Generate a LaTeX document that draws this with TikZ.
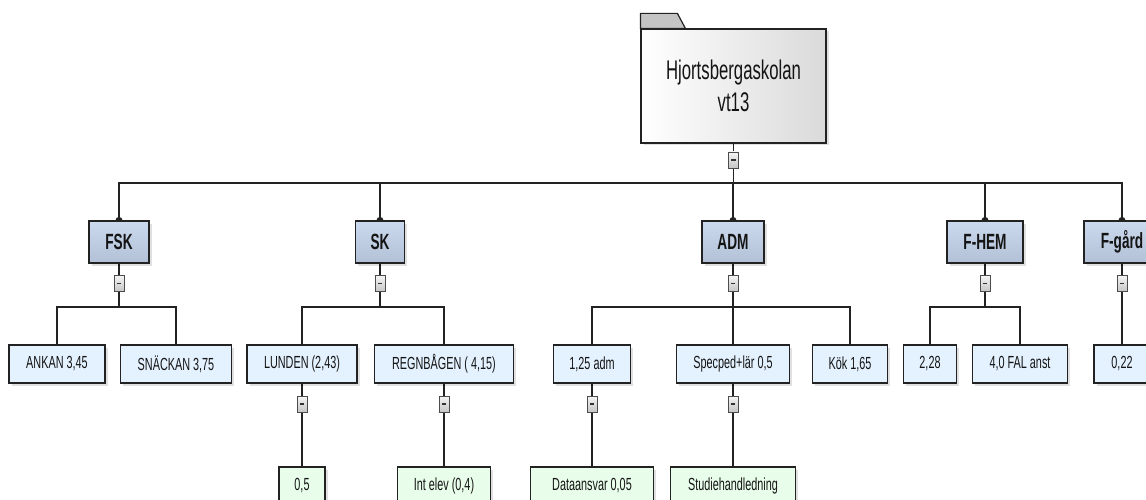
\documentclass[tikz,border=0pt]{standalone}
\usepackage{fontspec}
\setmainfont[FakeStretch=0.62]{Liberation Sans}
\usetikzlibrary{positioning,shadows}
\definecolor{rootgray}{RGB}{218,218,218}
\definecolor{tabgray}{RGB}{196,196,196}
\definecolor{grpblue}{RGB}{194,210,234}
\definecolor{unitblue}{RGB}{228,242,255}
\definecolor{subgreen}{RGB}{232,253,234}
\definecolor{edgegray}{RGB}{34,34,34}
\pgfdeclarelayer{background}
\pgfsetlayers{background,main}

\begin{document}
\begin{tikzpicture}[
  x=1pt, y=-1pt,
  anybox/.style={rectangle, draw=edgegray, line width=1.2pt, inner sep=0pt, text=black!92,
    drop shadow={shadow xshift=2.5pt, shadow yshift=-2.5pt, fill=black, opacity=0.12}},
  rootbox/.style={anybox, left color=white, right color=rootgray, align=center,
    font=\fontsize{27}{32}\selectfont},
  groupbox/.style={anybox, top color=grpblue!85!white, bottom color=grpblue!92!black,
    minimum height=42pt, font=\fontsize{22}{24}\selectfont\bfseries},
  unitbox/.style={anybox, fill=unitblue, minimum height=38pt, font=\fontsize{17.5}{20}\selectfont},
  subbox/.style={anybox, fill=subgreen, minimum height=38pt, font=\fontsize{17.5}{20}\selectfont},
  togglebox/.style={rectangle, draw=gray!60!black, line width=0.8pt, top color=gray!8, bottom color=gray!45,
    minimum width=10pt, minimum height=16pt, inner sep=0pt,
    path picture={\draw[line width=1.6pt, black!80] ([xshift=-2.2pt]path picture bounding box.center)
      -- ([xshift=2.2pt]path picture bounding box.center);}},
  conn/.style={draw=edgegray, line width=1.1pt},
  node distance=41.5pt
]
\useasboundingbox (0,0) rectangle (1146,500);

% school
\node[rootbox, minimum width=185pt, minimum height=114pt] (root) at (733.5,86) {Hjortsbergaskolan\\vt13};
\draw[draw=edgegray, line width=1.2pt, fill=tabgray] (root.north west) -- ++(0,-15) -- ++(37,0) -- ++(8,15) -- cycle;
\node[togglebox, below of=root, node distance=74pt] (root-m) {};

% groups
\node[groupbox, minimum width=60pt] (fsk) at (119,242) {FSK};
\node[groupbox, minimum width=49pt] (sk) at (380,242) {SK};
\node[groupbox, minimum width=62pt] (adm) at (733,242) {ADM};
\node[groupbox, minimum width=76pt] (fhem) at (985,242) {F-HEM};
\node[groupbox, minimum width=76pt] (fgard) at (1122,242) {F-gård};
\foreach \g in {fsk,sk,adm,fhem,fgard}
  \node[togglebox, below of=\g] (\g-m) {};

% units
\node[unitbox, minimum width=96pt] (ankan) at (57,364) {ANKAN 3,45};
\node[unitbox, minimum width=111pt] (snackan) at (176,364) {SNÄCKAN 3,75};
\node[unitbox, minimum width=110pt] (lunden) at (302,364) {LUNDEN (2,43)};
\node[unitbox, minimum width=139pt] (regnbagen) at (444,364) {REGNBÅGEN ( 4,15)};
\node[unitbox, minimum width=77pt] (adm125) at (592,364) {1,25 adm};
\node[unitbox, minimum width=113pt] (specped) at (733,364) {Specped+lär 0,5};
\node[unitbox, minimum width=75pt] (kok) at (850,364) {Kök 1,65};
\node[unitbox, minimum width=53pt] (n228) at (930,364) {2,28};
\node[unitbox, minimum width=95pt] (fal) at (1020,364) {4,0 FAL anst};
\node[unitbox, minimum width=56pt] (n022) at (1122,364) {0,22};
\foreach \u in {lunden,regnbagen,adm125,specped}
  \node[togglebox, below of=\u, node distance=40pt] (\u-m) {};

% sub units
\node[subbox, minimum width=46pt, below of=lunden-m, node distance=82pt] (n05) {0,5};
\node[subbox, minimum width=93pt, below of=regnbagen-m, node distance=82pt] (intelev) {Int elev (0,4)};
\node[subbox, minimum width=123pt, below of=adm125-m, node distance=82pt] (data) {Dataansvar 0,05};
\node[subbox, minimum width=125pt, below of=specped-m, node distance=82pt] (studie) {Studiehandledning};

\begin{pgfonlayer}{background}
\draw[conn] (root) -- (root-m);
\foreach \g in {fsk,sk,adm,fhem,fgard} {
  \draw[conn] (root-m) -- ++(0,23) -| (\g.north);
  \fill[edgegray] (\g.north) circle (3.5pt);
  \draw[conn] (\g) -- (\g-m);
}
\foreach \p/\c in {fsk/ankan,fsk/snackan,sk/lunden,sk/regnbagen,adm/adm125,adm/specped,adm/kok,fhem/n228,fhem/fal,fgard/n022}
  \draw[conn] (\p-m) -- ++(0,23.5) -| (\c.north);
\foreach \c/\s in {lunden/n05,regnbagen/intelev,adm125/data,specped/studie}
  \draw[conn] (\c) -- (\c-m) -- (\s);
\end{pgfonlayer}
\end{tikzpicture}
\end{document}
